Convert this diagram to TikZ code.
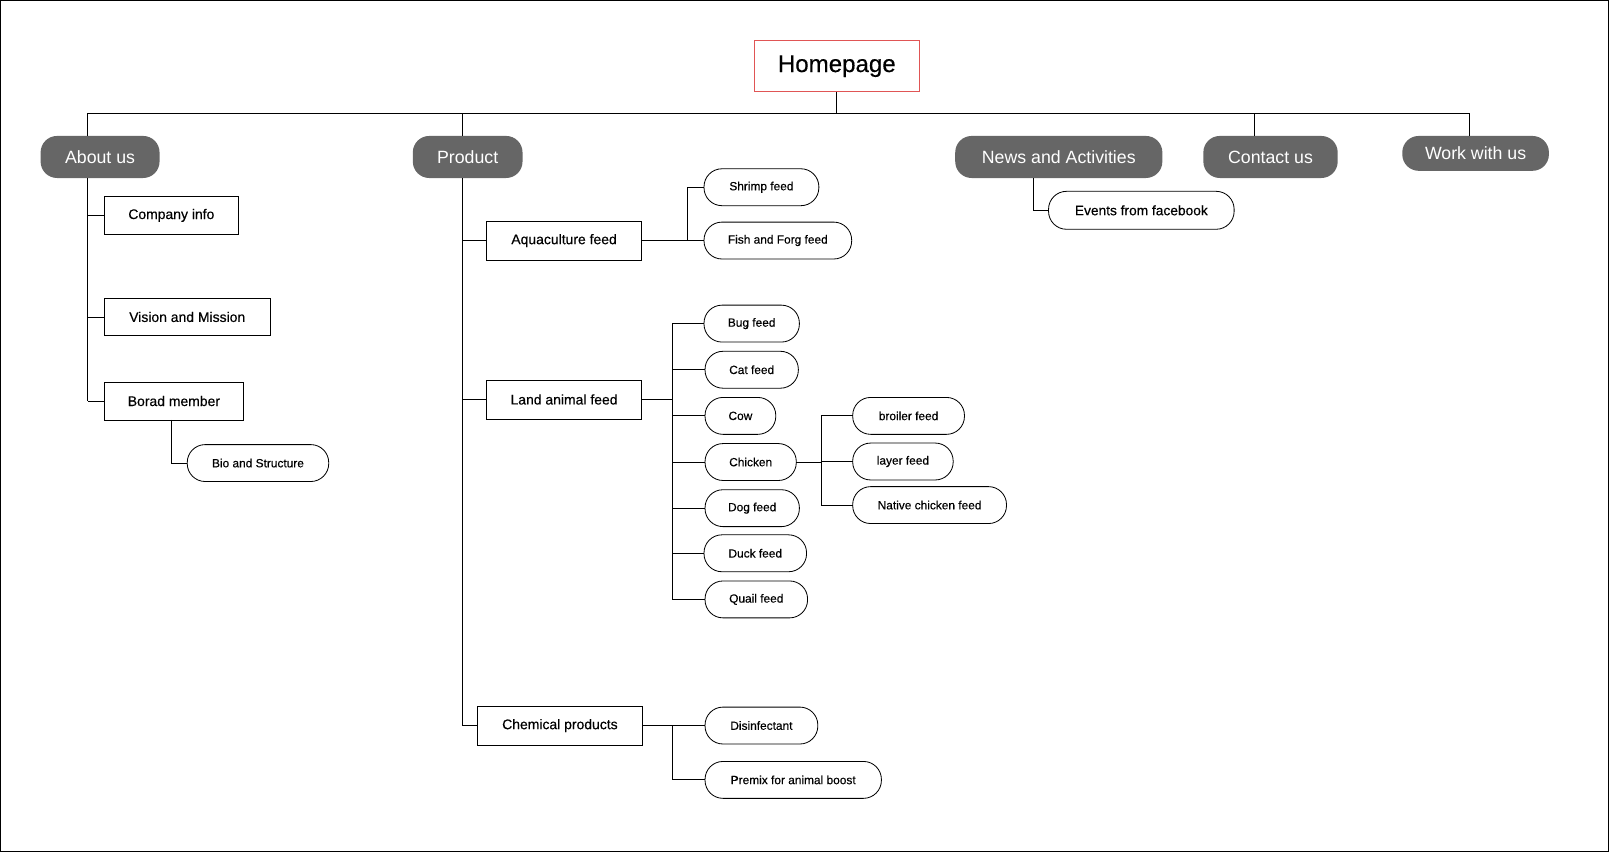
\documentclass[tikz,border=0pt]{standalone}
\usepackage{fontspec}
\setmainfont{Liberation Sans}
\newfontfamily\medfont[FakeBold=0.35]{Liberation Sans}
\definecolor{pillgray}{HTML}{666666}
\definecolor{homered}{HTML}{E05555}
\begin{document}
\begin{tikzpicture}[x=1pt,y=-1pt,line width=0.8pt,
  every node/.style={inner sep=0pt,outer sep=0pt,align=center},
  homebox/.style={draw=homered,minimum width=161pt,minimum height=50pt,font=\medfont\fontsize{23.5}{26}\selectfont},
  gpill/.style={fill=pillgray,text=white,rounded corners=16pt,minimum height=41pt,font=\fontsize{17.3}{20}\selectfont},
  rbox/.style={draw,minimum height=38pt,font=\medfont\fontsize{13.6}{16}\selectfont},
  wpill/.style={draw,fill=white,rounded corners=17.5pt,minimum height=36pt,font=\medfont\fontsize{11.6}{14}\selectfont},
  link/.style={draw,line width=0.8pt}]
\draw[line width=1.2pt] (0,0) rectangle (1568,830);
\useasboundingbox (0,0) rectangle (1568,830);

% top level
\node[homebox] (home) at (815.5,64) {Homepage};
\node[gpill,minimum width=116pt] (about) at (97,152.5) {About us};
\node[gpill,minimum width=107pt] (product) at (455.5,152.5) {Product};
\node[gpill,minimum width=202pt] (news) at (1032,152.5) {News and Activities};
\node[gpill,minimum width=131pt] (contact) at (1238.5,152.5) {Contact us};
\node[gpill,minimum width=143pt,minimum height=34pt] (work) at (1438.5,149) {Work with us};

\coordinate (bus) at (815.5,110);
\coordinate (bA) at (85,110);
\coordinate (bP) at (450,110);
\coordinate (bC) at (1223,110);
\coordinate (bW) at (1432,110);
\draw (home.south) -- (bus);
\draw (bA) -- (bW);
\draw (bA) -- (bA |- about.north);
\draw (bP) -- (bP |- product.north);
\draw (bC) -- (bC |- contact.north);
\draw (bW) -- (bW |- work.north);

% About us
\node[rbox,minimum width=131pt] (ci) at (166.5,209.5) {Company info};
\node[rbox,minimum width=162pt,minimum height=37pt] (vm) at (182,308.5) {Vision and Mission};
\node[rbox,minimum width=136pt,minimum height=37pt] (bm) at (169,390.5) {Borad member};
\node[wpill,minimum width=138pt] (bio) at (251,451) {Bio and Structure};
\coordinate (aT) at (bA |- about.south);
\draw (aT) -- (aT |- bm.west);
\draw (aT |- ci.west) -- (ci.west);
\draw (aT |- vm.west) -- (vm.west);
\draw (aT |- bm.west) -- (bm.west);
\coordinate (bmJ) at (167,409);
\draw (bmJ |- bm.south) |- (bio.west);

% Product
\node[rbox,minimum width=151pt] (aq) at (549.5,234) {Aquaculture feed};
\node[rbox,minimum width=151pt] (land) at (549.5,389) {Land animal feed};
\node[rbox,minimum width=161pt] (chem) at (545.5,707) {Chemical products};
\coordinate (pT) at (bP |- product.south);
\draw (pT) -- (pT |- chem.west);
\draw (pT |- aq.west) -- (aq.west);
\draw (pT |- land.west) -- (land.west);
\draw (pT |- chem.west) -- (chem.west);

% Aquaculture children
\node[wpill,minimum width=112pt] (shrimp) at (742,182) {Shrimp feed};
\node[wpill,minimum width=144pt] (fish) at (758,234) {Fish and Forg feed};
\coordinate (aqJ) at (670,234);
\draw (aq.east) -- (fish.west);
\draw (aqJ) |- (shrimp.west);

% Land animal children
\node[wpill,minimum width=93pt] (bug) at (732.5,315) {Bug feed};
\node[wpill,minimum width=91pt] (cat) at (732.5,360) {Cat feed};
\node[wpill,minimum width=69pt] (cow) at (721.5,405) {Cow};
\node[wpill,minimum width=89pt] (chicken) at (731.5,450) {Chicken};
\node[wpill,minimum width=92pt] (dog) at (733,495) {Dog feed};
\node[wpill,minimum width=100pt] (duck) at (736,539) {Duck feed};
\node[wpill,minimum width=100pt] (quail) at (737,584) {Quail feed};
\coordinate (lJ) at (655,389);
\draw (land.east) -- (lJ);
\draw (lJ |- bug.west) -- (lJ |- quail.west);
\foreach \n in {bug,cat,cow,chicken,dog,duck,quail}{
  \draw (lJ |- \n.west) -- (\n.west);
}

% Chicken children
\node[wpill,minimum width=109pt] (broiler) at (885.5,405) {broiler feed};
\node[wpill,minimum width=98pt] (layer) at (880,449.5) {layer feed};
\node[wpill,minimum width=150pt] (native) at (906,492) {Native chicken feed};
\coordinate (cJ) at (800,450);
\draw (chicken.east) -- (cJ |- chicken.east);
\draw (cJ |- broiler.west) -- (cJ |- native.west);
\foreach \n in {broiler,layer,native}{
  \draw (cJ |- \n.west) -- (\n.west);
}

% Chemical children
\node[wpill,minimum width=110pt] (dis) at (742,707) {Disinfectant};
\node[wpill,minimum width=172pt] (premix) at (773,760) {Premix for animal boost};
\coordinate (chJ) at (655,707);
\draw (chem.east) -- (dis.west);
\draw (chJ) |- (premix.west);

% News
\node[wpill,minimum width=181pt,minimum height=37pt,font=\medfont\fontsize{13.4}{16}\selectfont] (events) at (1112.5,204.5) {Events from facebook};
\coordinate (nJ) at (1007,173);
\draw (nJ |- news.south) |- (events.west);
\end{tikzpicture}
\end{document}
